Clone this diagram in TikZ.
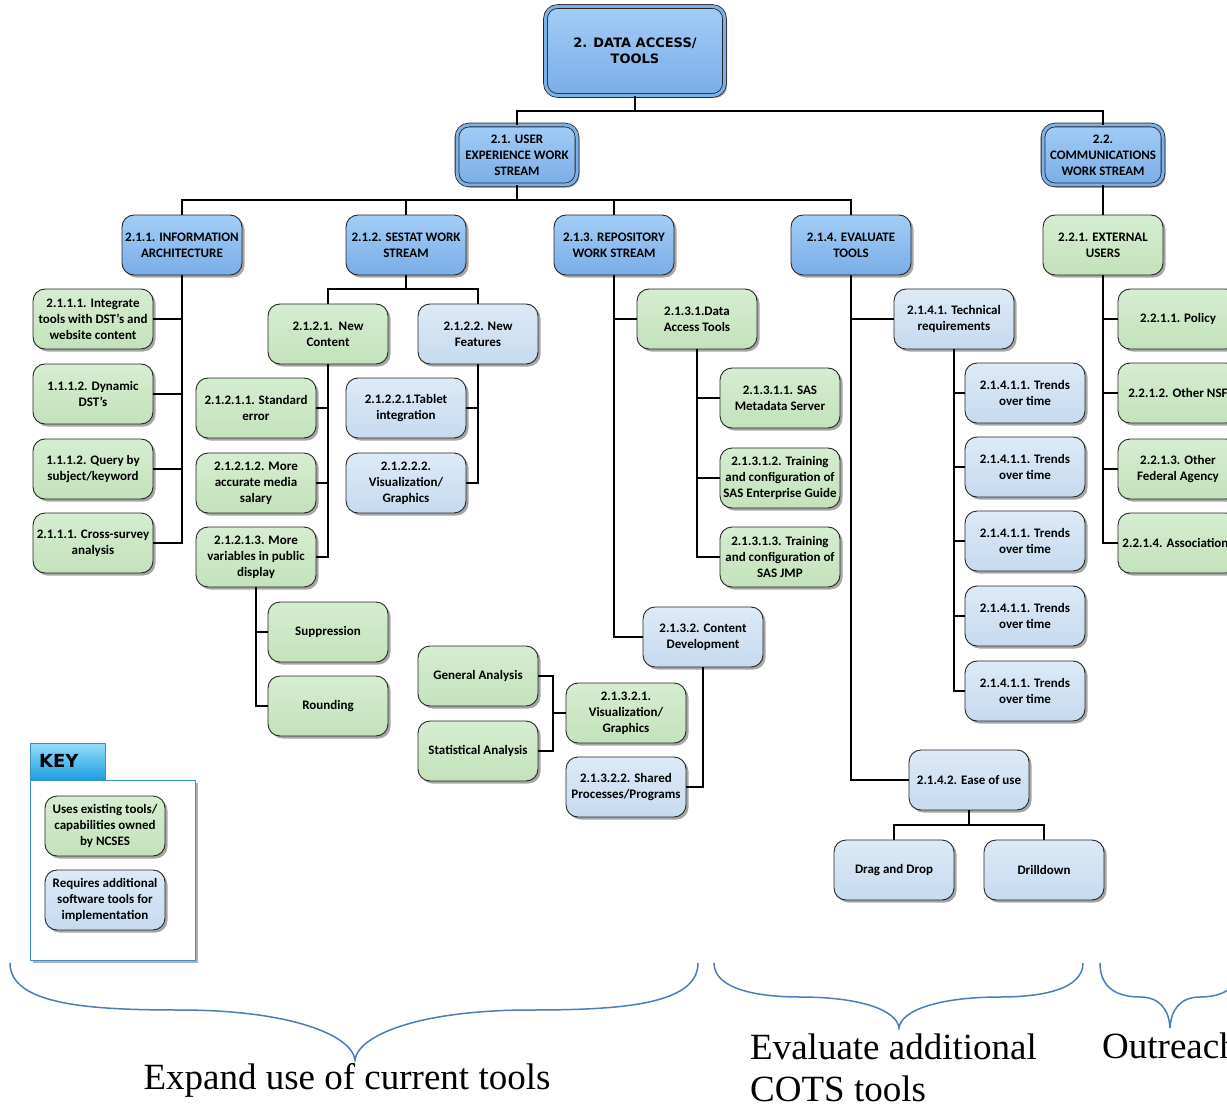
\documentclass[tikz,border=0pt]{standalone}
\usepackage{fontspec}
\setmainfont{Liberation Serif}
\newfontfamily\carlito{Carlito}
\newfontfamily\heavysans{DejaVu Sans}
\usetikzlibrary{shadows}

\definecolor{hdrtop}{HTML}{A2CDF6}
\definecolor{hdrbot}{HTML}{7AADE7}
\definecolor{grntop}{HTML}{D6EDD1}
\definecolor{grnbot}{HTML}{C3E2BB}
\definecolor{lbltop}{HTML}{DDEAF7}
\definecolor{lblbot}{HTML}{C6DAEF}
\definecolor{edge}{HTML}{262626}
\definecolor{bracecol}{HTML}{4A7EBB}
\definecolor{keytop}{HTML}{96DEFA}
\definecolor{keybot}{HTML}{1C9DE2}
\definecolor{keyedge}{HTML}{3A8FC4}

\tikzset{
  box/.style={rounded corners=12pt, draw=edge, line width=0.9pt,
    minimum width=120pt, minimum height=60pt, inner sep=1pt, align=center,
    font=\carlito\bfseries\fontsize{13}{16}\selectfont,
    drop shadow={shadow xshift=2.5pt, shadow yshift=-2.5pt, fill=black, opacity=0.35}},
  hdr/.style={box, top color=hdrtop, bottom color=hdrbot},
  dbl/.style={double=hdrbot!90!hdrtop, double distance=3pt, line width=0.8pt},
  grn/.style={box, top color=grntop, bottom color=grnbot},
  lbl/.style={box, top color=lbltop, bottom color=lblbot},
  conn/.style={draw=black, line width=1.5pt},
  brace/.style={draw=bracecol, line width=1.5pt},
  caption/.style={font=\fontsize{37}{42}\selectfont, inner sep=0pt}
}

\begin{document}
\begin{tikzpicture}[x=1pt,y=-1pt]
\useasboundingbox (0,0) rectangle (1227,1105);

% ---- top levels ----
\node[hdr,dbl,minimum width=179pt,minimum height=89pt,
      font=\heavysans\bfseries\fontsize{13}{16}\selectfont] (top) at (635,51) {2. DATA ACCESS/\\TOOLS};
\node[hdr,dbl] (ux) at (517,155) {2.1. USER\\EXPERIENCE WORK\\STREAM};
\node[hdr,dbl] (cm) at (1103,155) {2.2.\\COMMUNICATIONS\\WORK STREAM};

\node[hdr] (ia) at (182,245) {2.1.1. INFORMATION\\ARCHITECTURE};
\node[hdr] (ss) at (406,245) {2.1.2. SESTAT WORK\\STREAM};
\node[hdr] (rp) at (614,245) {2.1.3. REPOSITORY\\WORK STREAM};
\node[hdr] (ev) at (851,245) {2.1.4. EVALUATE\\TOOLS};
\node[grn] (eu) at (1103,245) {2.2.1. EXTERNAL\\USERS};

% ---- 2.1.1 ----
\node[grn] (ia1) at (93,319) {2.1.1.1. Integrate\\tools with DST’s and\\website content};
\node[grn] (ia2) at (93,394) {1.1.1.2. Dynamic\\DST’s};
\node[grn] (ia3) at (93,469) {1.1.1.2. Query by\\subject/keyword};
\node[grn] (ia4) at (93,543) {2.1.1.1. Cross-survey\\analysis};

% ---- 2.1.2 ----
\node[grn] (nc) at (328,334) {2.1.2.1.\ \ New\\Content};
\node[lbl] (nf) at (478,334) {2.1.2.2. New\\Features};
\node[grn] (nc1) at (256,408) {2.1.2.1.1. Standard\\error};
\node[grn] (nc2) at (256,483) {2.1.2.1.2. More\\accurate media\\salary};
\node[grn] (nc3) at (256,557) {2.1.2.1.3. More\\variables in public\\display};
\node[lbl] (nf1) at (406,408) {2.1.2.2.1.Tablet\\integration};
\node[lbl] (nf2) at (406,483) {2.1.2.2.2.\\Visualization/\\Graphics};
\node[grn] (sup) at (328,632) {Suppression};
\node[grn] (rnd) at (328,706) {Rounding};

% ---- 2.1.3 ----
\node[grn] (da) at (697,319) {2.1.3.1.Data\\Access Tools};
\node[grn] (da1) at (780,398) {2.1.3.1.1. SAS\\Metadata Server};
\node[grn] (da2) at (780,478) {2.1.3.1.2. Training\\and configuration of\\SAS Enterprise Guide};
\node[grn] (da3) at (780,557) {2.1.3.1.3. Training\\and configuration of\\SAS JMP};
\node[lbl] (cd) at (703,637) {2.1.3.2. Content\\Development};
\node[grn] (vg) at (626,713) {2.1.3.2.1.\\Visualization/\\Graphics};
\node[lbl] (sp) at (626,787) {2.1.3.2.2. Shared\\Processes/Programs};
\node[grn] (ga) at (478,676) {General Analysis};
\node[grn] (sa) at (478,751) {Statistical Analysis};

% ---- 2.1.4 ----
\node[lbl] (tq) at (954,319) {2.1.4.1. Technical\\requirements};
\foreach \i/\y in {1/393,2/467,3/541,4/616,5/691}
  \node[lbl] (tt\i) at (1025,\y) {2.1.4.1.1. Trends\\over time};
\node[lbl] (eou) at (969,780) {2.1.4.2. Ease of use};
\node[lbl] (dd) at (894,870) {Drag and Drop};
\node[lbl] (dr) at (1044,870) {Drilldown};

% ---- 2.2.1 ----
\node[grn] (po) at (1178,319) {2.2.1.1. Policy};
\node[grn] (ns) at (1178,393) {2.2.1.2. Other NSF};
\node[grn] (fa) at (1178,469) {2.2.1.3. Other\\Federal Agency};
\node[grn] (asn) at (1178,543) {2.2.1.4. Associations};

% ---- connectors ----
\coordinate (j0) at (635,111);
\draw[conn] (top.south) -- (j0);
\draw[conn] (ux.north) |- (j0) -| (cm.north);
\coordinate (j1) at (517,200);
\draw[conn] (ux.south) -- (j1);
\draw[conn] (ia.north) |- (j1) -| (ev.north);
\draw[conn] (ss.north) -- (ss.north |- j1);
\draw[conn] (rp.north) -- (rp.north |- j1);
\draw[conn] (cm.south) -- (eu.north);

\draw[conn] (ia.south) |- (ia4.east);
\foreach \n in {ia1,ia2,ia3} \draw[conn] (\n.east) -- (\n.east -| ia.south);

\coordinate (j2) at (406,289);
\draw[conn] (ss.south) -- (j2);
\draw[conn] (nc.north) |- (j2) -| (nf.north);
\draw[conn] (nc.south) |- (nc3.east);
\foreach \n in {nc1,nc2} \draw[conn] (\n.east) -- (\n.east -| nc.south);
\draw[conn] (nf.south) |- (nf2.east);
\draw[conn] (nf1.east) -- (nf1.east -| nf.south);
\draw[conn] (nc3.south) |- (rnd.west);
\draw[conn] (sup.west) -- (sup.west -| nc3.south);

\draw[conn] (rp.south) |- (cd.west);
\draw[conn] (da.west) -- (da.west -| rp.south);
\draw[conn] (da.south) |- (da3.west);
\foreach \n in {da1,da2} \draw[conn] (\n.west) -- (\n.west -| da.south);
\draw[conn] (cd.south) |- (sp.east);
\coordinate (j3) at (553,713);
\draw[conn] (ga.east) -| (j3) |- (sa.east);
\draw[conn] (j3) -- (vg.west);

\draw[conn] (ev.south) |- (eou.west);
\draw[conn] (tq.west) -- (tq.west -| ev.south);
\draw[conn] (tq.south) |- (tt5.west);
\foreach \n in {tt1,tt2,tt3,tt4} \draw[conn] (\n.west) -- (\n.west -| tq.south);
\coordinate (j4) at (969,825);
\draw[conn] (eou.south) -- (j4);
\draw[conn] (dd.north) |- (j4) -| (dr.north);

\draw[conn] (eu.south) |- (asn.west);
\foreach \n in {po,ns,fa} \draw[conn] (\n.west) -- (\n.west -| eu.south);

% ---- key ----
\fill[black,opacity=0.3] (33,783) rectangle (198,963);
\draw[keyedge, line width=0.8pt, fill=white] (30,780) rectangle (195,960);
\draw[keyedge, line width=0.8pt, top color=keytop, bottom color=keybot] (30,743) rectangle (105,780);
\node[anchor=west, inner sep=0pt, font=\heavysans\bfseries\fontsize{18}{20}\selectfont] (keylabel) at (39,761) {KEY};
\node[grn] (kg) at (105,826) {Uses existing tools/\\capabilities owned\\by NCSES};
\node[lbl] (kb) at (105,900) {Requires additional\\software tools for\\implementation};

% ---- braces and captions ----
\draw[brace] (10,963) .. controls (10,1005) and (90,1010) .. (180,1010)
  .. controls (290,1010) and (352,1035) .. (355,1060)
  .. controls (358,1035) and (420,1010) .. (530,1010)
  .. controls (620,1010) and (698,1005) .. (698,963);
\draw[brace] (714,963) .. controls (714,990) and (760,997) .. (800,997)
  .. controls (860,997) and (897,1010) .. (899,1028)
  .. controls (901,1010) and (940,997) .. (1000,997)
  .. controls (1040,997) and (1083,990) .. (1083,963);
\draw[brace] (1100,963) .. controls (1100,990) and (1120,997) .. (1140,997)
  .. controls (1160,997) and (1169,1010) .. (1170,1028)
  .. controls (1171,1010) and (1180,997) .. (1200,997)
  .. controls (1220,997) and (1240,990) .. (1240,963);

\node[caption, anchor=base] (cap1) at (347,1089) {Expand use of current tools};
\node[caption, anchor=base west] (cap2a) at (750,1059) {Evaluate additional};
\node[caption, anchor=base west] (cap2b) at (750,1101) {COTS tools};
\node[caption, anchor=base west] (cap3) at (1102,1058) {Outreach};
\end{tikzpicture}
\end{document}
